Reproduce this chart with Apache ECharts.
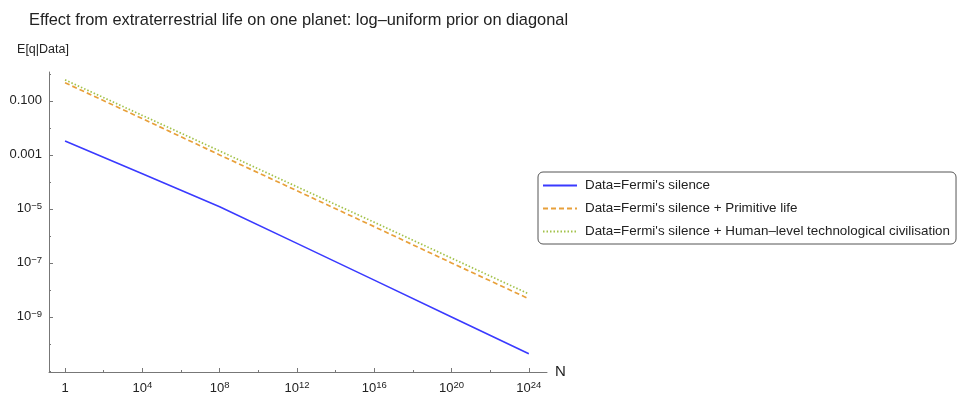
<!DOCTYPE html>
<html>
<head>
<meta charset="utf-8">
<script src="https://cdn.jsdelivr.net/npm/echarts@6/dist/echarts.min.js"></script>
<style>
	html, body { margin: 0; padding: 0; background: #fff; }
	#chart { width: 959px; height: 395px; }
</style>
</head>
<body>
<div id="chart"></div>
<script>
// N 取值 (x轴, 对数)
let N = [1, 1e4, 1e8, 1e12, 1e16, 1e20, 1e24]

// E[q|Data] 读图估计
let silence = [3.3e-3, 2.0e-4, 1.2e-5, 5.3e-7, 2.3e-8, 1.0e-9, 4.3e-11]
let primitive = [0.47, 0.022, 1.0e-3, 4.7e-5, 2.2e-6, 1.0e-7, 4.7e-9]
let human = [0.60, 0.029, 1.4e-3, 6.6e-5, 3.2e-6, 1.5e-7, 7.1e-9]

let names = [
	"Data=Fermi's silence",
	"Data=Fermi's silence + Primitive life",
	"Data=Fermi's silence + Human–level technological civilisation"
]

// 刻度
let xMajor = [1, 1e4, 1e8, 1e12, 1e16, 1e20, 1e24]
let xMinor = [1e2, 1e6, 1e10, 1e14, 1e18, 1e22]
let yMajor = [0.1, 0.001, 1e-5, 1e-7, 1e-9]
let yMinor = [1, 0.01, 1e-4, 1e-6, 1e-8, 1e-10, 1e-11]

let font = "'Liberation Sans', Arial, sans-serif"
let axisColor = '#777'

let xRange = [Math.pow(10, -0.83), Math.pow(10, 24.94)]
let yRange = [Math.pow(10, -11.04), Math.pow(10, 0.07)]

let pairs = (ys) => N.map((n, i) => [n, ys[i]])

let sup = {
	b: { fontSize: 13, fontFamily: font, color: '#222', lineHeight: 16 },
	s: { fontSize: 9.5, fontFamily: font, color: '#222', lineHeight: 9, verticalAlign: 'top' }
}

let powLabel = (v) => {
	let e = Math.round(Math.log10(v))
	return '{b|10}{s|' + String(e).replace('-', '−') + '}'
}

// 次刻度用一条不显示轴线的重叠轴
let minorAxis = (vals, range, position) => ({
	type: 'log',
	position: position,
	min: range[0],
	max: range[1],
	axisLine: { show: false, onZero: false },
	axisLabel: { show: false },
	splitLine: { show: false },
	axisTick: { show: true, inside: true, length: 2, customValues: vals, lineStyle: { color: axisColor } }
})

let chart = echarts.init(document.getElementById('chart'))

let opt = {
	animation: false,
	title: {
		text: 'Effect from extraterrestrial life on one planet: log–uniform prior on diagonal',
		left: 24,
		top: 7,
		textStyle: { fontFamily: font, fontSize: 16.4, fontWeight: 'normal', color: '#222' }
	},
	grid: { left: 49, top: 72, right: 412, bottom: 23 },
	legend: {
		orient: 'vertical',
		left: 538,
		top: 172,
		padding: [7, 6, 6, 4],
		itemWidth: 34,
		itemHeight: 13,
		itemGap: 10,
		borderColor: '#555',
		borderWidth: 1,
		borderRadius: 5,
		itemStyle: { opacity: 0, borderWidth: 0 },
		textStyle: { fontFamily: font, fontSize: 13.4, color: '#222', padding: [0, 0, 0, 3] },
		data: names
	},
	xAxis: [
		{
			type: 'log',
			position: 'bottom',
			min: xRange[0],
			max: xRange[1],
			name: 'N',
			nameLocation: 'end',
			nameGap: 8,
			nameTextStyle: { fontFamily: font, fontSize: 15, color: '#222' },
			axisLine: { onZero: false, lineStyle: { color: axisColor } },
			splitLine: { show: false },
			axisTick: { inside: true, length: 4, customValues: xMajor, lineStyle: { color: axisColor } },
			axisLabel: {
				margin: 8,
				customValues: xMajor,
				rich: sup,
				formatter: (v) => (v === 1 ? '{b|1}' : powLabel(v))
			}
		},
		minorAxis(xMinor, xRange, 'bottom')
	],
	yAxis: [
		{
			type: 'log',
			position: 'left',
			min: yRange[0],
			max: yRange[1],
			name: 'E[q|Data]',
			nameLocation: 'end',
			nameGap: 16,
			nameTextStyle: { fontFamily: font, fontSize: 12.5, color: '#222', padding: [0, 12, 0, 0] },
			axisLine: { onZero: false, lineStyle: { color: axisColor } },
			splitLine: { show: false },
			axisTick: { inside: true, length: 4, customValues: yMajor, lineStyle: { color: axisColor } },
			axisLabel: {
				margin: 7,
				customValues: yMajor,
				rich: sup,
				formatter: (v) => {
					if (v > 0.05) return '{b|0.100}'
					if (v > 0.0005) return '{b|0.001}'
					return powLabel(v)
				}
			}
		},
		minorAxis(yMinor, yRange, 'left')
	],
	series: [
		{
			name: names[0],
			type: 'line',
			symbol: 'none',
			data: pairs(silence),
			lineStyle: { color: '#3a3aff', width: 1.6 },
			itemStyle: { color: '#3a3aff' }
		},
		{
			name: names[1],
			type: 'line',
			symbol: 'none',
			data: pairs(primitive),
			lineStyle: { color: '#e8a03a', width: 1.7, type: [5, 3] },
			itemStyle: { color: '#e8a03a' }
		},
		{
			name: names[2],
			type: 'line',
			symbol: 'none',
			data: pairs(human),
			lineStyle: { color: '#a2c24a', width: 1.7, type: [1.5, 2] },
			itemStyle: { color: '#a2c24a' }
		}
	]
}

chart.setOption(opt)
</script>
</body>
</html>
